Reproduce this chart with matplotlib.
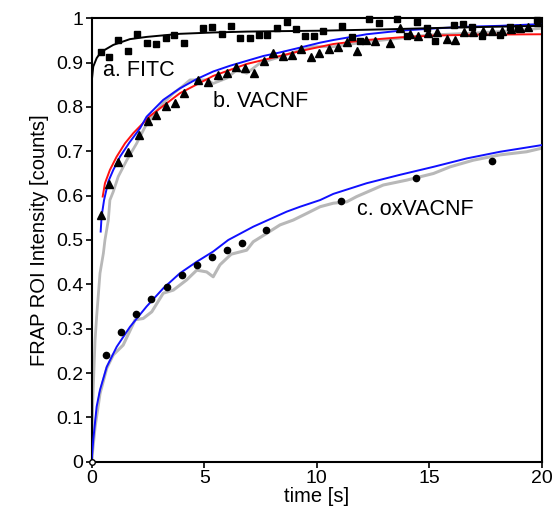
import matplotlib
matplotlib.use("Agg")
import matplotlib.pyplot as plt
from matplotlib.ticker import FormatStrFormatter

plt.rcParams['font.family'] = ['Liberation Sans', 'DejaVu Sans']

# a. FITC - squares + black fit
fitc_t = [0.40, 0.78, 1.18, 1.63, 2.03, 2.44, 2.86, 3.30, 3.67, 4.10, 4.93, 5.35,
          5.78, 6.19, 6.59, 7.04, 7.45, 7.80, 8.25, 8.67, 9.08, 9.48, 9.88, 10.30,
          11.11, 11.56, 11.93, 12.34, 12.79, 13.56, 14.03, 14.44, 14.89, 15.26,
          16.08, 16.52, 16.89, 17.33, 18.15, 18.59, 18.96, 19.78]
fitc_v = [0.925, 0.913, 0.952, 0.927, 0.964, 0.944, 0.941, 0.956, 0.962, 0.944, 0.977, 0.981,
          0.965, 0.983, 0.955, 0.955, 0.962, 0.962, 0.977, 0.992, 0.975, 0.960, 0.960, 0.972,
          0.983, 0.957, 0.949, 0.998, 0.990, 0.998, 0.960, 0.991, 0.977, 0.949,
          0.985, 0.987, 0.981, 0.960, 0.962, 0.981, 0.977, 0.996]
fitc_fit_t = [0.0, 0.07, 0.22, 0.37, 0.52, 0.96, 1.70, 2.44, 3.92, 5.40, 6.89, 8.37,
              10.15, 13.0, 16.0, 20.0]
fitc_fit_v = [0.857, 0.891, 0.910, 0.921, 0.927, 0.940, 0.953, 0.958, 0.965, 0.968, 0.970,
              0.971, 0.972, 0.975, 0.979, 0.983]

# b. VACNF - triangles, gray trace, blue and red fits
vac_t = [0.40, 0.78, 1.16, 1.62, 2.10, 2.49, 2.86, 3.30, 3.70, 4.10, 4.74, 5.18, 5.60,
         6.00, 6.41, 6.81, 7.21, 7.66, 8.07, 8.49, 8.89, 9.29, 9.73, 10.12, 10.56,
         10.96, 11.36, 11.78, 12.20, 12.59, 13.26, 13.70, 14.15, 14.52, 14.96, 15.33,
         15.78, 16.15, 16.56, 16.96, 17.38, 17.78, 18.22, 18.62, 19.04, 19.41, 19.85]
vac_v = [0.556, 0.626, 0.677, 0.699, 0.737, 0.768, 0.782, 0.802, 0.808, 0.831, 0.861, 0.857,
         0.872, 0.876, 0.891, 0.887, 0.876, 0.904, 0.921, 0.914, 0.917, 0.930, 0.912, 0.922,
         0.930, 0.935, 0.946, 0.927, 0.951, 0.949, 0.945, 0.977, 0.965, 0.960, 0.966, 0.968,
         0.953, 0.951, 0.970, 0.968, 0.971, 0.971, 0.971, 0.975, 0.977, 0.981, 0.992]
vac_raw_t = [0.00, 0.04, 0.15, 0.22, 0.37, 0.52, 0.59, 0.74, 0.81, 0.96, 1.18, 1.56, 2.00,
             2.37, 2.80, 3.20, 3.63, 4.00, 4.37, 5.11, 5.40, 6.00, 6.44, 6.89, 7.48, 8.37,
             9.26, 9.85, 10.74, 12.22, 13.70, 14.89, 16.67, 18.15, 19.90]
vac_raw_v = [0.010, 0.124, 0.274, 0.327, 0.425, 0.470, 0.500, 0.545, 0.590, 0.609, 0.643,
             0.680, 0.718, 0.755, 0.785, 0.810, 0.831, 0.845, 0.861, 0.861, 0.853, 0.865,
             0.883, 0.876, 0.899, 0.913, 0.928, 0.936, 0.936, 0.947, 0.955, 0.962, 0.966,
             0.970, 0.977]
vac_blue_t = [0.40, 0.44, 0.55, 0.74, 0.96, 1.26, 1.68, 2.15, 2.44, 3.18, 3.92, 4.67, 5.40,
              6.15, 6.89, 7.63, 8.37, 9.11, 10.15, 10.74, 12.22, 13.70, 15.19, 16.67,
              18.15, 20.0]
vac_blue_v = [0.519, 0.553, 0.590, 0.632, 0.658, 0.688, 0.720, 0.752, 0.778, 0.816, 0.842,
              0.863, 0.880, 0.893, 0.904, 0.915, 0.923, 0.932, 0.945, 0.951, 0.964, 0.972,
              0.977, 0.981, 0.983, 0.987]
vac_red_t = [0.49, 0.59, 0.81, 1.11, 1.48, 1.85, 2.60, 3.92, 5.40, 6.89, 8.37, 9.26, 10.74,
             12.22, 13.70, 15.19, 17.0, 20.0]
vac_red_v = [0.598, 0.628, 0.658, 0.688, 0.718, 0.741, 0.780, 0.831, 0.870, 0.897, 0.915,
             0.926, 0.942, 0.951, 0.957, 0.961, 0.963, 0.964]

# c. oxVACNF - circles, gray trace, blue fit
ox_t = [0.64, 1.30, 1.97, 2.64, 3.33, 4.00, 4.67, 5.33, 6.00, 6.67, 7.75, 11.07, 14.41, 17.78]
ox_v = [0.241, 0.293, 0.334, 0.367, 0.395, 0.422, 0.443, 0.461, 0.477, 0.493, 0.523, 0.589,
        0.639, 0.678]
ox_raw_t = [0.00, 0.15, 0.37, 0.67, 0.96, 1.40, 1.93, 2.29, 2.67, 3.18, 3.63, 4.22, 4.67,
            5.11, 5.40, 5.70, 6.20, 6.89, 7.18, 7.78, 8.37, 8.96, 9.56, 10.15, 10.74,
            11.33, 11.78, 12.96, 14.00, 15.19, 15.93, 16.96, 18.15, 19.33, 20.0]
ox_raw_v = [0.004, 0.079, 0.154, 0.211, 0.241, 0.263, 0.320, 0.323, 0.338, 0.380, 0.387,
            0.410, 0.432, 0.428, 0.417, 0.444, 0.468, 0.477, 0.496, 0.515, 0.534, 0.545,
            0.560, 0.575, 0.583, 0.586, 0.598, 0.624, 0.635, 0.650, 0.665, 0.680, 0.692,
            0.699, 0.707]
ox_fit_t = [0.0, 0.07, 0.22, 0.37, 0.67, 1.11, 1.70, 2.44, 3.18, 3.92, 4.67, 5.40, 6.07,
            7.18, 8.67, 9.26, 10.15, 10.74, 12.22, 13.70, 15.19, 16.67, 18.15, 20.0]
ox_fit_v = [0.004, 0.049, 0.124, 0.162, 0.214, 0.259, 0.304, 0.350, 0.391, 0.425, 0.451,
            0.474, 0.500, 0.530, 0.564, 0.575, 0.590, 0.604, 0.628, 0.647, 0.665, 0.684,
            0.699, 0.714]

fig = plt.figure(figsize=(5.58, 5.11), dpi=100)
ax = fig.add_axes([0.1643, 0.0965, 0.8065, 0.8677])

gray = '#b8b8b8'
ax.plot(vac_raw_t, vac_raw_v, color=gray, lw=2.0, zorder=1)
ax.plot(ox_raw_t, ox_raw_v, color=gray, lw=2.2, zorder=1)

ax.plot(vac_red_t, vac_red_v, color='#ff1010', lw=1.4, zorder=2)
ax.plot(vac_blue_t, vac_blue_v, color='#1010ff', lw=1.4, zorder=3)
ax.plot(ox_fit_t, ox_fit_v, color='#1010ff', lw=1.4, zorder=3)
ax.plot(fitc_fit_t, fitc_fit_v, color='black', lw=1.4, zorder=3)

ax.plot(fitc_t, fitc_v, 's', color='black', ms=5, clip_on=False, zorder=4)
ax.plot(vac_t, vac_v, '^', color='black', ms=5.5, clip_on=False, zorder=4)
ax.plot(ox_t, ox_v, 'o', color='black', ms=4.5, clip_on=False, zorder=4)
ax.plot([0], [0], 'o', mfc='white', mec='black', ms=4, mew=1, clip_on=False, zorder=5)

ax.text(0.5, 0.883, 'a. FITC', fontsize=15.5, va='center', ha='left')
ax.text(5.4, 0.812, 'b. VACNF', fontsize=15.5, va='center', ha='left')
ax.text(11.8, 0.568, 'c. oxVACNF', fontsize=15.5, va='center', ha='left')

ax.set_xlim(0, 20)
ax.set_ylim(0, 1)
ax.set_xticks([0, 5, 10, 15, 20])
ax.set_yticks([0, 0.1, 0.2, 0.3, 0.4, 0.5, 0.6, 0.7, 0.8, 0.9, 1.0])
ax.yaxis.set_major_formatter(FormatStrFormatter('%g'))
ax.tick_params(direction='out', length=4, width=1.2, labelsize=14, pad=2)
for s in ax.spines.values():
    s.set_linewidth(1.5)

ax.set_xlabel('time [s]', fontsize=14.5, labelpad=0)
ax.set_ylabel('FRAP ROI Intensity [counts]', fontsize=14.5, labelpad=5)

fig.savefig('out.png', dpi=100)
